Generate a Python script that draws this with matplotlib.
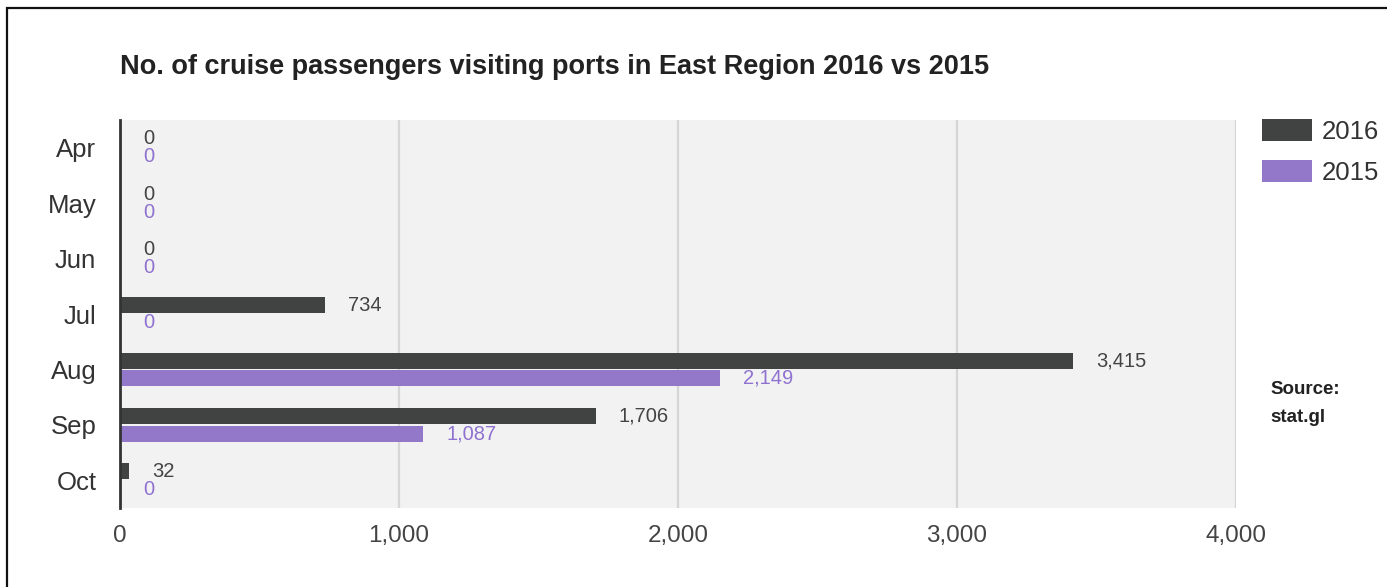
import matplotlib
matplotlib.use("Agg")
import matplotlib.pyplot as plt
from matplotlib.patches import Rectangle
import numpy as np

plt.rcParams['font.family'] = ['Liberation Sans', 'DejaVu Sans']

months = ["Apr", "May", "Jun", "Jul", "Aug", "Sep", "Oct"]
passengers_2016 = [0, 0, 0, 734, 3415, 1706, 32]
passengers_2015 = [0, 0, 0, 0, 2149, 1087, 0]
series_labels = ["2016", "2015"]
x_ticks = [0, 1000, 2000, 3000, 4000]
title = "No. of cruise passengers visiting ports in East Region 2016 vs 2015"

W, H = 1387, 587
fig = plt.figure(figsize=(W / 100, H / 100), dpi=100)
ax = fig.add_axes([120 / W, 1 - 508 / H, (1236 - 120) / W, (508 - 120) / H])

c16 = "#414343"
c15 = "#9377c9"
ax.set_facecolor("#f2f2f2")

y = np.arange(len(months))
bh = 0.29
off = 0.16
ax.barh(y - off, passengers_2016, height=bh, color=c16, label=series_labels[0], zorder=3)
ax.barh(y + off, passengers_2015, height=bh, color=c15, label=series_labels[1], zorder=3)

for yi, v in zip(y, passengers_2016):
    ax.annotate(f"{v:,}", (v, yi - off), xytext=(23, 0), textcoords="offset pixels",
                ha="left", va="center", fontsize=14.5, color="#444444", zorder=4)
for yi, v in zip(y, passengers_2015):
    ax.annotate(f"{v:,}", (v, yi + off), xytext=(23, 0), textcoords="offset pixels",
                ha="left", va="center", fontsize=14.5, color="#8f72d0", zorder=4)

ax.set_xlim(0, 4000)
ax.set_ylim(len(months) - 0.5, -0.5)
ax.set_yticks(y)
ax.set_yticklabels(months)
ax.set_xticks(x_ticks)
ax.set_xticklabels([f"{t:,}" for t in x_ticks])
ax.tick_params(axis="y", length=0, pad=17, labelsize=18.5, labelcolor="#333333")
ax.tick_params(axis="x", length=0, pad=12, labelsize=17.5, labelcolor="#444444")
for s in ["top", "right", "bottom"]:
    ax.spines[s].set_visible(False)
ax.spines["left"].set_color("#333333")
ax.spines["left"].set_linewidth(2)
ax.spines["left"].set_zorder(5)
ax.xaxis.grid(True, color="#d6d6d6", linewidth=1.6, zorder=1)
ax.set_axisbelow(True)

fig.text(120 / W, 1 - 67 / H, title, ha="left", va="center", fontsize=19.5,
         fontweight="bold", color="#222222")

leg = ax.legend(loc="upper left", bbox_to_anchor=(1262 / W, 1 - 119 / H),
                bbox_transform=fig.transFigure, frameon=False, fontsize=18.5,
                handlelength=1.95, handleheight=0.95, handletextpad=0.38,
                labelspacing=0.62, borderpad=0, borderaxespad=0)
for t in leg.get_texts():
    t.set_color("#333333")

fig.text(1270 / W, 1 - 390 / H, "Source:", ha="left", va="center", fontsize=13.5,
         fontweight="bold", color="#222222")
fig.text(1270 / W, 1 - 418 / H, "stat.gl", ha="left", va="center", fontsize=13.5,
         fontweight="bold", color="#222222")

fig.add_artist(Rectangle((7 / W, -0.1), 1.2, 1 - 8 / H + 0.1, transform=fig.transFigure,
                         fill=False, edgecolor="#111111", linewidth=1.6, clip_on=False))

fig.savefig("out.png", dpi=100, facecolor="white")
